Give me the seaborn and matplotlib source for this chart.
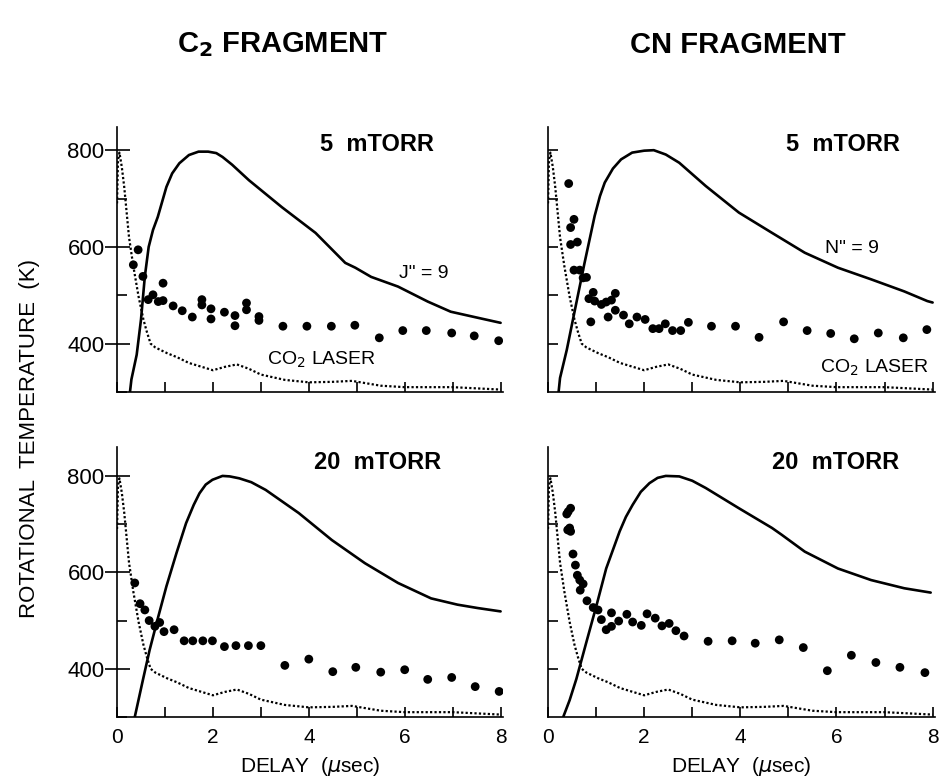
import matplotlib
matplotlib.use('Agg')
import matplotlib.pyplot as plt
from matplotlib.ticker import MultipleLocator
import seaborn as sns

# CO2 laser pulse profile (dotted trace, same in all four panels)
laser_x = [0.0, 0.02, 0.05, 0.10, 0.15, 0.25, 0.34, 0.45, 0.55, 0.62, 0.70, 0.80, 1.05, 1.25,
           1.5, 2.0, 2.25, 2.5, 2.75, 3.0, 3.5, 4.0, 4.5, 4.9, 5.5, 6.0, 7.0, 8.0]
laser_y = [690, 780, 795, 765, 724, 620, 560, 497, 450, 425, 400, 392, 380, 372,
           360, 345, 352, 357, 348, 336, 325, 320, 321, 323, 313, 310, 310, 305]

# C2 fragment, 5 mTorr
c2_5_x = [0.34, 0.44, 0.54, 0.65, 0.75, 0.86, 0.96, 0.96, 1.17, 1.36, 1.57, 1.77, 1.77, 1.96, 1.96,
          2.24, 2.46, 2.46, 2.70, 2.70, 2.96, 2.96, 3.46, 3.96, 4.47, 4.96, 5.47, 5.96, 6.45, 6.98,
          7.45, 7.96]
c2_5_y = [563, 594, 539, 491, 501, 487, 525, 489, 478, 468, 455, 491, 480, 472, 451,
          465, 458, 437, 484, 470, 456, 448, 436, 436, 436, 438, 412, 427, 427, 422,
          416, 406]
c2_5_fit_x = [0.27, 0.30, 0.41, 0.50, 0.58, 0.66, 0.75, 0.85, 1.03, 1.15, 1.30, 1.50, 1.70, 1.90,
              2.07, 2.20, 2.40, 2.75, 3.44, 4.14, 4.76, 4.97, 5.30, 5.86, 6.48, 6.96, 7.50, 8.0]
c2_5_fit_y = [300, 326, 377, 450, 539, 600, 635, 662, 724, 752, 773, 790, 797, 797,
              794, 786, 770, 738, 682, 629, 567, 557, 538, 518, 487, 466, 454, 443]

# C2 fragment, 20 mTorr
c2_20_x = [0.37, 0.48, 0.58, 0.67, 0.79, 0.89, 0.98, 1.19, 1.40, 1.58, 1.79, 1.99, 2.24, 2.48,
           2.74, 3.00, 3.50, 4.00, 4.50, 4.98, 5.50, 6.00, 6.48, 6.98, 7.47, 7.97]
c2_20_y = [578, 535, 522, 500, 488, 496, 477, 481, 458, 458, 458, 458, 446, 448,
           448, 448, 407, 420, 394, 403, 393, 398, 378, 382, 363, 353]
c2_20_fit_x = [0.37, 0.54, 0.68, 0.86, 1.03, 1.24, 1.44, 1.60, 1.72, 1.85, 1.99, 2.20, 2.35,
               2.55, 2.80, 3.10, 3.79, 4.48, 5.17, 5.86, 6.55, 7.10, 7.52, 8.0]
c2_20_fit_y = [300, 377, 439, 508, 571, 640, 702, 740, 764, 782, 792, 800, 799,
               795, 787, 771, 723, 667, 619, 578, 546, 533, 526, 519]

# CN fragment, 5 mTorr
cn_5_x = [0.43, 0.54, 0.47, 0.47, 0.61, 0.54, 0.66, 0.73, 0.80, 0.94, 0.85, 0.97, 1.11, 1.21,
          1.32, 1.40, 0.89, 1.25, 1.40, 1.57, 1.69, 1.85, 2.02, 2.18, 2.31, 2.44, 2.59, 2.76,
          2.92, 3.40, 3.90, 4.39, 4.90, 5.39, 5.88, 6.37, 6.87, 7.39, 7.88]
cn_5_y = [731, 657, 640, 605, 610, 552, 552, 536, 537, 506, 493, 488, 481, 486,
          490, 504, 445, 455, 469, 459, 441, 455, 450, 431, 431, 441, 427, 427,
          444, 436, 436, 413, 445, 427, 421, 410, 422, 412, 429]
cn_5_fit_x = [0.22, 0.25, 0.39, 0.56, 0.76, 0.97, 1.08, 1.18, 1.35, 1.52, 1.75, 2.0, 2.2, 2.45,
              2.73, 3.28, 3.97, 4.66, 5.34, 6.03, 6.72, 7.41, 7.89, 8.0]
cn_5_fit_y = [300, 329, 387, 470, 567, 664, 705, 733, 762, 781, 795, 799, 800, 791,
              774, 726, 671, 629, 588, 557, 533, 508, 488, 485]

# CN fragment, 20 mTorr
cn_20_x = [0.39, 0.42, 0.47, 0.41, 0.45, 0.47, 0.52, 0.57, 0.61, 0.66, 0.73, 0.67, 0.81, 0.94,
           1.04, 1.11, 1.21, 1.32, 1.32, 1.47, 1.64, 1.76, 1.94, 2.06, 2.23, 2.37, 2.52, 2.66,
           2.83, 3.33, 3.83, 4.31, 4.81, 5.31, 5.81, 6.31, 6.82, 7.32, 7.84]
cn_20_y = [721, 726, 733, 688, 692, 685, 638, 615, 594, 584, 576, 563, 541, 527,
           522, 502, 481, 516, 488, 499, 513, 497, 490, 514, 505, 489, 494, 479,
           468, 457, 458, 453, 460, 444, 396, 428, 413, 403, 392]
cn_20_fit_x = [0.32, 0.45, 0.59, 0.80, 1.01, 1.21, 1.49, 1.62, 1.76, 1.93, 2.11, 2.28, 2.45,
               2.73, 3.00, 3.28, 3.97, 4.66, 4.86, 5.34, 6.03, 6.72, 7.41, 7.96]
cn_20_fit_y = [301, 335, 379, 456, 532, 608, 685, 715, 740, 767, 785, 796, 800,
               799, 790, 775, 733, 692, 678, 643, 608, 584, 567, 558]

FONT = 'Liberation Sans'

sns.set_style('ticks')
plt.rcParams['font.family'] = [FONT, 'DejaVu Sans']
plt.rcParams['axes.linewidth'] = 1.2
# pure black ink everywhere, like the printed figure
for key in ['text.color', 'axes.labelcolor', 'axes.edgecolor', 'xtick.color', 'ytick.color']:
    plt.rcParams[key] = 'black'

fig = plt.figure(figsize=(9.4, 7.79), dpi=100)

panels = [
    # rect, dots, fit, pressure label + pos, fit label + pos, laser label pos, left col, bottom row
    ([0.1245, 0.4968, 0.4106, 0.3402], c2_5_x, c2_5_y, c2_5_fit_x, c2_5_fit_y,
     '5  mTORR', (0.674, 0.932), 'J" = 9', (0.795, 0.449), (0.531, 0.121), True, False),
    ([0.583, 0.4968, 0.4117, 0.3402], cn_5_x, cn_5_y, cn_5_fit_x, cn_5_fit_y,
     '5  mTORR', (0.762, 0.932), 'N" = 9', (0.786, 0.543), (0.845, 0.091), False, False),
    ([0.1245, 0.0796, 0.4106, 0.3466], c2_20_x, c2_20_y, c2_20_fit_x, c2_20_fit_y,
     '20  mTORR', (0.676, 0.941), None, None, None, True, True),
    ([0.583, 0.0796, 0.4117, 0.3466], cn_20_x, cn_20_y, cn_20_fit_x, cn_20_fit_y,
     '20  mTORR', (0.744, 0.941), None, None, None, False, True),
]

for rect, dx, dy, fx, fy, plabel, ppos, flabel, fpos, lpos, left, bottom in panels:
    ax = fig.add_axes(rect)

    # laser pulse (dotted), model curve (solid), measured temperatures (dots)
    sns.lineplot(x=laser_x, y=laser_y, ax=ax, color='black', lw=1.6,
                 linestyle=(0, (1, 1)), estimator=None, sort=False)
    sns.lineplot(x=fx, y=fy, ax=ax, color='black', lw=1.9, estimator=None, sort=False)
    sns.scatterplot(x=dx, y=dy, ax=ax, color='black', s=40, edgecolor='none', zorder=3)

    ax.set_xlim(0, 8.05)
    ax.set_ylim(300, 860 if bottom else 848)
    sns.despine(ax=ax)
    ax.set_xlabel('')
    ax.set_ylabel('')

    # x ticks
    ax.xaxis.set_major_locator(MultipleLocator(2))
    ax.xaxis.set_minor_locator(MultipleLocator(1))
    ax.tick_params(axis='x', which='both', direction='in', length=7, width=1.2,
                   labelsize=15, pad=8)
    if not bottom:
        ax.set_xticklabels([])
    else:
        ax.set_xlabel(r'DELAY  ($\mu$sec)', fontsize=15, labelpad=6)

    # y ticks
    if left:
        ax.set_yticks([400, 600, 800])
        ax.yaxis.set_minor_locator(MultipleLocator(100))
        ax.tick_params(axis='y', which='major', direction='inout', length=18, width=1.2,
                       labelsize=16, pad=0)
        ax.tick_params(axis='y', which='minor', direction='in', length=7, width=1.2)
    else:
        ax.set_yticks([400, 500, 600, 700, 800])
        ax.set_yticklabels([])
        ax.tick_params(axis='y', which='major', direction='in', length=7, width=1.2)

    ax.text(*ppos, plabel, transform=ax.transAxes, ha='center', va='center',
            fontsize=17, fontweight='bold')
    if flabel:
        ax.text(*fpos, flabel, transform=ax.transAxes, ha='center', va='center', fontsize=14)
    if lpos:
        ax.text(*lpos, r'CO$_2$ LASER', transform=ax.transAxes, ha='center', va='center',
                fontsize=14)

fig.text(283 / 940, 1 - 45 / 779, r'C$_{\mathbf{2}}$ FRAGMENT', ha='center', va='center',
         fontsize=21, fontweight='bold')
fig.text(738 / 940, 1 - 45 / 779, 'CN FRAGMENT', ha='center', va='center',
         fontsize=21, fontweight='bold')
fig.text(30 / 940, 1 - 438 / 779, 'ROTATIONAL  TEMPERATURE  (K)', rotation=90,
         ha='center', va='center', fontsize=16)

fig.savefig('out.png', dpi=100)
